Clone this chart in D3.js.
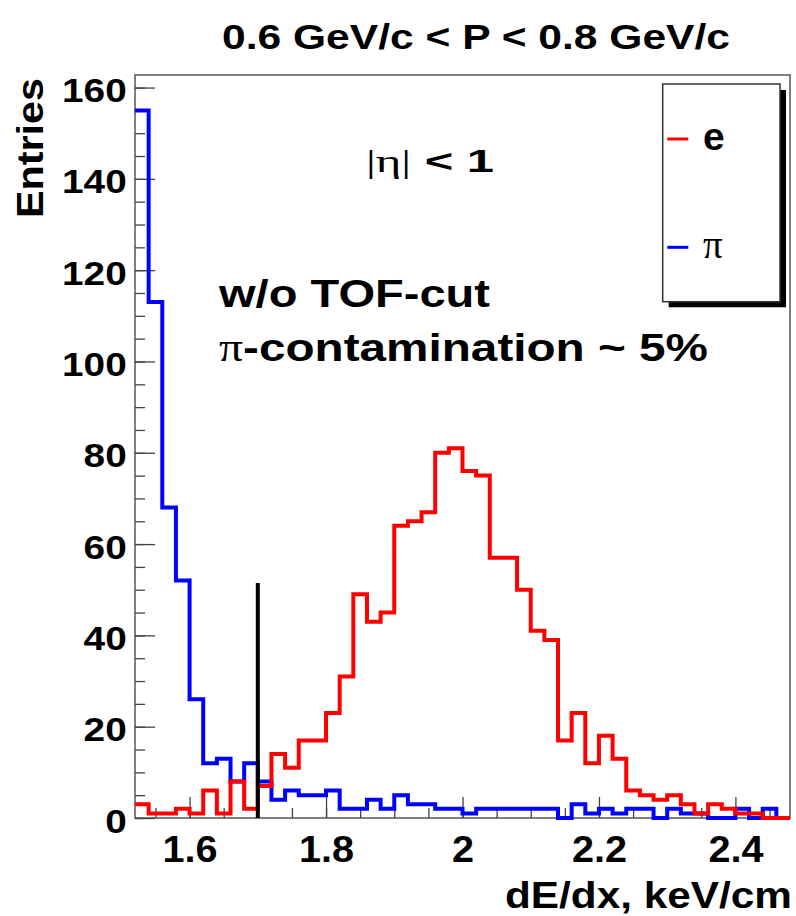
<!DOCTYPE html>
<html><head><meta charset="utf-8">
<script src="https://cdn.jsdelivr.net/npm/d3@7"></script>
<style>body{margin:0;background:#fff}</style>
</head><body>
<svg id="c" width="796" height="916"></svg>
<script>
// ---- data ----
const binLow = 1.52;
const binWidth = 0.02;
const electron = [3,1,1,2,1,6,1,8,2,7,14,11,17,17,23,31,49,43,45,64,65,67,80,81,76,75,57,57,50,41,39,17,23,12,18,13,6,5,4,5,3,1,3,2,1,1,0,0];
const pion = [155,113,68,52,26,12,13,8,12,8,4,6,5,5,6,2,2,4,2,5,3,3,2,2,1,2,2,2,2,2,2,0,3,1,2,1,2,2,0,2,1,1,0,0,2,0,2,0];
const xMajorTicks = [1.6,1.8,2.0,2.2,2.4];
const xMinorTicks = d3.range(1.55,2.48,0.05);
const yMajorTicks = [0,20,40,60,80,100,120,140,160];
const yMinorTicks = d3.range(0,162,5);
const cutX = 1.70, cutTop = 51.5;
const legendItems = [{label:"e", color:"#ff0000"},{label:"\u03c0", color:"#0000ff"}];

const svg = d3.select("#c");
const L=135, R=790, T=75, B=818;
const x = d3.scaleLinear().domain([1.52, 2.48]).range([L, R]);
const y = d3.scaleLinear().domain([0, 162.75]).range([B, T]);
const SANS = "'Liberation Sans', Arial, Helvetica, sans-serif";
const SERIF = "'Liberation Serif', 'Times New Roman', serif";

function stretch(sel, k){ sel.each(function(){ const w=this.getComputedTextLength(); this.setAttribute("textLength", w*k); this.setAttribute("lengthAdjust","spacingAndGlyphs"); }); }

// frame
svg.append("rect").attr("x",L).attr("y",T).attr("width",R-L).attr("height",B-T)
  .attr("fill","#fff").attr("stroke","#555").attr("stroke-width",1.5);

// x axis ticks
const gx = svg.append("g").attr("transform",`translate(0,${B})`);
gx.append("g").call(d3.axisBottom(x).tickValues(xMinorTicks).tickSize(-10).tickFormat(""))
  .call(g=>g.select(".domain").remove());
const gxm = gx.append("g").call(d3.axisBottom(x).tickValues(xMajorTicks).tickSize(-21).tickFormat(d=>d3.format("")(+d.toFixed(1))));
gxm.select(".domain").remove();
gx.selectAll("line").attr("stroke","#444").attr("stroke-width",1.3);
gxm.selectAll("text").attr("y",43.7).attr("dy",null).attr("font-family",SANS).attr("font-weight","bold")
  .attr("font-size",37).attr("fill","#000").call(stretch,1.07);

// y axis ticks
const gy = svg.append("g").attr("transform",`translate(${L},0)`);
gy.append("g").call(d3.axisLeft(y).tickValues(yMinorTicks).tickSize(-10).tickFormat(""))
  .call(g=>g.select(".domain").remove());
const gym = gy.append("g").call(d3.axisLeft(y).tickValues(yMajorTicks).tickSize(-20).tickFormat(d3.format("d")));
gym.select(".domain").remove();
gy.selectAll("line").attr("stroke","#444").attr("stroke-width",1.3);
gym.selectAll("text").attr("x",-8.3).attr("dy",null).attr("y",14).attr("text-anchor","end")
  .attr("font-family",SANS).attr("font-weight","bold").attr("font-size",34).attr("fill","#000").call(stretch,1.14);

// histograms
function pts(vals){ const p = vals.map((v,i)=>[binLow+i*binWidth, v]); p.push([binLow+vals.length*binWidth, vals[vals.length-1]]); return p; }
const line = d3.line().x(d=>x(d[0])).y(d=>y(d[1])).curve(d3.curveStepAfter);
svg.append("path").attr("d",line(pts(pion))).attr("fill","none").attr("stroke","#0000ff").attr("stroke-width",4);
svg.append("path").attr("d",line(pts(electron))).attr("fill","none").attr("stroke","#ff0000").attr("stroke-width",4);

// cut line
svg.append("line").attr("x1",x(cutX)).attr("x2",x(cutX)).attr("y1",y(0)).attr("y2",y(cutTop))
  .attr("stroke","#000").attr("stroke-width",4);

// title
svg.append("text").attr("x",222).attr("y",49).attr("font-family",SANS).attr("font-weight","bold")
  .attr("font-size",35).attr("textLength",508).attr("lengthAdjust","spacingAndGlyphs")
  .text("0.6 GeV/c < P < 0.8 GeV/c");

// axis titles
svg.append("text").attr("transform","translate(43.3,218) rotate(-90)").attr("font-family",SANS)
  .attr("font-weight","bold").attr("font-size",37).attr("textLength",140).attr("lengthAdjust","spacingAndGlyphs")
  .text("Entries");
svg.append("text").attr("x",505).attr("y",908).attr("font-family",SANS).attr("font-weight","bold")
  .attr("font-size",37).attr("textLength",287).attr("lengthAdjust","spacingAndGlyphs")
  .text("dE/dx, keV/cm");

// annotations
const eta = svg.append("text").attr("x",366).attr("y",172).attr("font-size",32).attr("textLength",128).attr("lengthAdjust","spacingAndGlyphs");
eta.append("tspan").attr("font-family",SERIF).text("|\u03b7|");
eta.append("tspan").attr("font-family",SANS).attr("font-weight","bold").text(" < 1");

svg.append("text").attr("x",219).attr("y",307).attr("font-family",SANS).attr("font-weight","bold")
  .attr("font-size",39).attr("textLength",271).attr("lengthAdjust","spacingAndGlyphs").text("w/o TOF-cut");
const pc = svg.append("text").attr("x",219).attr("y",361).attr("font-size",39).attr("textLength",489).attr("lengthAdjust","spacingAndGlyphs");
pc.append("tspan").attr("font-family",SERIF).text("\u03c0");
pc.append("tspan").attr("font-family",SANS).attr("font-weight","bold").text("-contamination ~ 5%");

// legend
const lg = svg.append("g");
lg.append("rect").attr("x",668.7).attr("y",90).attr("width",117.3).attr("height",217.3).attr("fill","#000");
lg.append("rect").attr("x",662.7).attr("y",84).attr("width",117.3).attr("height",217.7).attr("fill","#fff").attr("stroke","#333").attr("stroke-width",1.5);
const ly = d3.scalePoint().domain(legendItems.map(d=>d.label)).range([139,247.3]);
legendItems.forEach(d=>{
  lg.append("line").attr("x1",667.3).attr("x2",688.3).attr("y1",ly(d.label)).attr("y2",ly(d.label)).attr("stroke",d.color).attr("stroke-width",3);
  const t = lg.append("text").attr("x",703).attr("y",ly(d.label)+11).attr("font-size",39).text(d.label);
  if(d.label==="e") t.attr("font-family",SANS).attr("font-weight","bold");
  else t.attr("font-family",SERIF);
});
</script>
</body></html>
